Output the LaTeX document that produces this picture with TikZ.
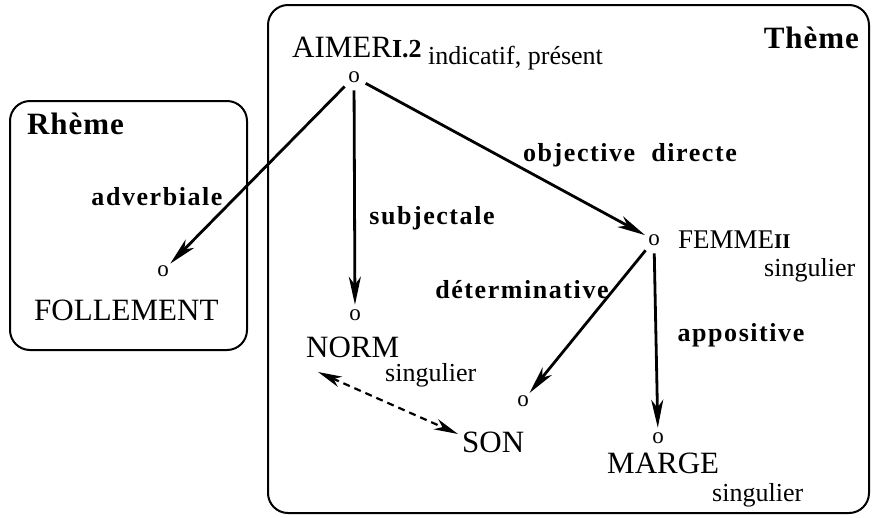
\documentclass[tikz,border=0pt]{standalone}
\usepackage{fontspec}
\setmainfont{Liberation Serif}
\newfontfamily\lblfam[LetterSpace=6]{Liberation Serif Bold}
\newfontfamily\ttlfam[LetterSpace=3]{Liberation Serif Bold}
\newfontfamily\bfam{Liberation Serif Bold}
\usetikzlibrary{arrows.meta}
\tikzset{
  word/.style={font=\fontsize{31}{33}\selectfont, inner sep=0pt, anchor=base west},
  subw/.style={font=\fontsize{26}{28}\selectfont, inner sep=0pt, anchor=base west},
  lbl/.style={font=\lblfam\fontsize{26}{28}\selectfont, inner sep=0pt},
  title/.style={font=\ttlfam\fontsize{31}{33}\selectfont, inner sep=0pt},
  dotnode/.style={circle, inner sep=1.5pt, font=\fontsize{23}{25}\selectfont},
  rel/.style={line width=2.8pt, -{Stealth[length=28pt,width=12pt,inset=8pt]}, shorten <=3pt},
  zone/.style={draw, line width=2pt, rounded corners=20pt}
}
\begin{document}
\begin{tikzpicture}[x=1pt,y=-1pt]
\useasboundingbox (0,0) rectangle (873,517);
% zones
\draw[zone] (268,5) rectangle (869,513);
\draw[zone] (10,101) rectangle (247,350);
\node[title, anchor=base east] (theme) at (859,48) {Thème};
\node[title, anchor=base west] (rheme) at (27,134) {Rhème};
% words
\node[word] (aimerw) at (292,57)
  {AIMER{\bfam\fontsize{26}{28}\selectfont I.2}};
\node[subw] (aimersub) at (428,64) {indicatif, présent};
\node[word] (follw) at (34,320) {FOLLEMENT};
\node[word] (normw) at (306,357) {NORM};
\node[subw] (normsub) at (385,381) {singulier};
\node[word, font=\fontsize{27}{29}\selectfont] (femmew) at (678,248) {FEMME{\bfam\fontsize{21}{22}\selectfont II}};
\node[subw] (femmesub) at (764,276) {singulier};
\node[word] (sonw) at (462,452) {SON};
\node[word] (margew) at (607,473) {MARGE};
\node[subw] (margesub) at (712,501) {singulier};
% markers
\node[dotnode] (paimer) at (354,77) {o};
\node[dotnode] (pfoll) at (163,271) {o};
\node[dotnode] (pnorm) at (355,315) {o};
\node[dotnode] (pfemme) at (654,240) {o};
\node[dotnode] (pson) at (523,401) {o};
\node[dotnode] (pmarge) at (658,438) {o};
% relations
\draw[rel] (paimer) -- (pfoll);
\draw[rel] (paimer) -- (pnorm);
\draw[rel] (paimer) -- (pfemme);
\draw[rel] (pfemme) -- (pson);
\draw[rel] (pfemme) -- (pmarge);
% labels
\node[lbl] (ladv) at (157,197) {adverbiale};
\node[lbl] (lsubj) at (432,218) {subjectale};
\node[lbl] (lobj) at (630,155) {objective\ \ directe};
\node[lbl] (ldet) at (522,290) {déterminative};
\node[lbl] (lapp) at (741,335) {appositive};
% coreference
\coordinate (cA) at (318,372);
\coordinate (cB) at (458,434);
\draw[line width=2.2pt, dash pattern=on 7pt off 5pt, {Stealth[length=24pt,width=11pt,inset=7pt]}-{Stealth[length=24pt,width=11pt,inset=7pt]}] (cA) -- (cB);
\end{tikzpicture}
\end{document}
